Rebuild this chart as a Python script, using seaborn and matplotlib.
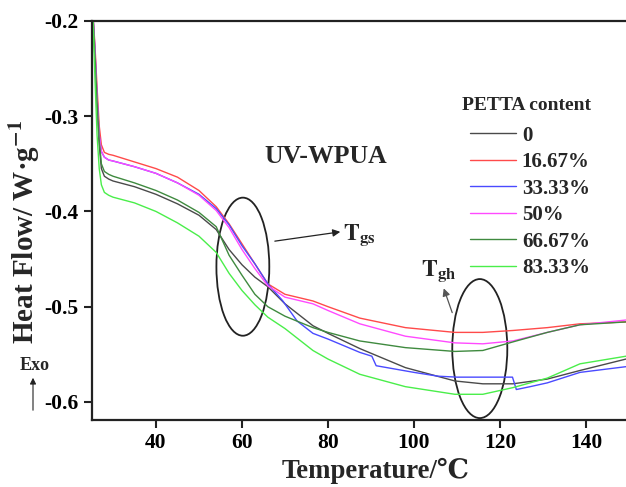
import numpy as np
import pandas as pd
import seaborn as sns
import matplotlib
matplotlib.use("Agg")
import matplotlib.pyplot as plt
from matplotlib.patches import Ellipse, FancyArrowPatch

# ---- data ----
contents = ["0", "16.67%", "33.33%", "50%", "66.67%", "83.33%"]
colors = ["#4a4a4a", "#ff4a4a", "#4a4aff", "#ff4aff", "#3f8a3f", "#4aee4a"]

T_base = [25.3, 25.8, 26.3, 26.8, 27.3, 28, 29, 30, 35, 40, 45, 50, 54, 57, 60, 63, 66,
          70, 76.5, 80, 87.4, 98, 109.5, 116, 123, 131, 138.6, 149.3]

hf_0 = [-0.19, -0.24, -0.29, -0.33, -0.355, -0.363, -0.366, -0.368, -0.374, -0.382, -0.392,
        -0.404, -0.419, -0.440, -0.456, -0.469, -0.479,
        -0.497, -0.520, -0.528, -0.544, -0.564, -0.578, -0.581, -0.581, -0.576, -0.567, -0.555]
hf_1667 = [-0.19, -0.225, -0.27, -0.31, -0.33, -0.338, -0.340, -0.341, -0.348, -0.355, -0.364,
           -0.378, -0.395, -0.413, -0.434, -0.455, -0.476,
           -0.487, -0.494, -0.500, -0.512, -0.522, -0.527, -0.527, -0.525, -0.522, -0.518, -0.516]
hf_50 = [-0.19, -0.23, -0.28, -0.32, -0.337, -0.343, -0.346, -0.347, -0.353, -0.360, -0.370,
         -0.383, -0.399, -0.417, -0.440, -0.460, -0.478,
         -0.490, -0.497, -0.504, -0.518, -0.531, -0.538, -0.539, -0.536, -0.527, -0.519, -0.514]
hf_6667 = [-0.19, -0.235, -0.285, -0.325, -0.35, -0.358, -0.361, -0.363, -0.370, -0.378, -0.388,
           -0.401, -0.416, -0.446, -0.467, -0.487, -0.500,
           -0.510, -0.522, -0.527, -0.536, -0.543, -0.547, -0.546, -0.537, -0.527, -0.519, -0.516]
hf_8333 = [-0.19, -0.26, -0.32, -0.355, -0.372, -0.380, -0.383, -0.385, -0.391, -0.400, -0.412,
           -0.426, -0.443, -0.465, -0.483, -0.498, -0.511,
           -0.523, -0.546, -0.555, -0.571, -0.584, -0.592, -0.592, -0.585, -0.575, -0.560, -0.552]

T_3333 = [25.3, 25.8, 26.3, 26.8, 27.3, 28, 29, 30, 35, 40, 45, 50, 54, 57, 60, 63, 66,
          69.5, 72.8, 76.5, 80, 87.4, 90.2, 91.2, 100, 105.6, 110, 116, 122.9, 123.8,
          127, 131, 138.6, 149.3]
hf_3333 = [-0.19, -0.23, -0.28, -0.32, -0.337, -0.343, -0.346, -0.347, -0.353, -0.360, -0.370,
           -0.382, -0.397, -0.414, -0.436, -0.455, -0.476,
           -0.494, -0.515, -0.528, -0.534, -0.548, -0.552, -0.562, -0.569, -0.573, -0.574,
           -0.574, -0.574, -0.587, -0.584, -0.580, -0.569, -0.563]

series = {
    "0": (T_base, hf_0),
    "16.67%": (T_base, hf_1667),
    "33.33%": (T_3333, hf_3333),
    "50%": (T_base, hf_50),
    "66.67%": (T_base, hf_6667),
    "83.33%": (T_base, hf_8333),
}
rows = []
for name in contents:
    ts, vs = series[name]
    for t, v in zip(ts, vs):
        rows.append({"T": t, "HF": v, "content": name})
df = pd.DataFrame(rows)

x_ticks = [40, 60, 80, 100, 120, 140]
y_ticks = [-0.6, -0.5, -0.4, -0.3, -0.2]

# ---- style ----
sns.set_theme(style="ticks")
plt.rcParams["font.family"] = ["Liberation Serif", "DejaVu Serif"]
plt.rcParams["font.weight"] = "bold"
plt.rcParams["mathtext.fontset"] = "stix"

fig = plt.figure(figsize=(6.26, 4.87), dpi=100)
ax = fig.add_axes([92/626, 1 - 420/487, 1 - 92/626, (420 - 21)/487])

sns.lineplot(data=df, x="T", y="HF", hue="content", hue_order=contents,
             palette=colors, estimator=None, sort=True, linewidth=1.0, ax=ax)

ax.set_xlim(25.12, 149.3)
ax.set_ylim(-0.619, -0.2)
ax.set_xticks(x_ticks)
ax.set_yticks(y_ticks)
ax.set_xticklabels([str(v) for v in x_ticks], fontsize=15.5, fontweight="bold")
ax.set_yticklabels([f"{v:.1f}" for v in y_ticks], fontsize=15.5, fontweight="bold")
ax.tick_params(direction="out", length=6, width=1.5, colors="#222222", labelcolor="black")
for s in ["left", "bottom", "top"]:
    ax.spines[s].set_linewidth(1.6)
    ax.spines[s].set_color("#222222")
ax.spines["top"].set_visible(True)
ax.spines["right"].set_visible(False)

ax.set_xlabel("Temperature/℃", fontsize=19.3, fontweight="bold")
ax.xaxis.set_label_coords((376 - 92) / 534, (420 - 458) / 399)
ax.set_ylabel(r"Heat Flow/ W·g$^{\mathbf{-1}}$", fontsize=21, fontweight="bold")
ax.yaxis.set_label_coords((42 - 92) / 534, (420 - 232) / 399)

# legend
leg = ax.legend(loc="upper left", bbox_to_anchor=(451/626, 1 - 107/487),
                bbox_transform=fig.transFigure, frameon=False, fontsize=15,
                handlelength=2.2, handletextpad=0.3, labelspacing=0.31)
for t in leg.get_texts():
    t.set_fontweight("bold")
fig.text(462/626, 1 - 105/487, "PETTA content", fontsize=14, fontweight="bold",
         ha="left", va="center")

# annotations
ax.text(79.5, -0.342, "UV-WPUA", fontsize=18.5, fontweight="bold", ha="center", va="center")
ax.add_patch(Ellipse((60.2, -0.458), 12.3, 0.145, fill=False, edgecolor="#222222", lw=1.3))
ax.add_patch(Ellipse((115.3, -0.544), 12.8, 0.146, fill=False, edgecolor="#222222", lw=1.3))
ax.annotate("", xy=(83.5, -0.421), xytext=(67.0, -0.4316),
            arrowprops=dict(arrowstyle="-|>", lw=0.9, color="#222222", mutation_scale=11))
ax.text(83.6, -0.425, r"$\mathbf{T_{gs}}$", fontsize=17, ha="left", va="center")
ax.annotate("", xy=(106.7, -0.478), xytext=(109.1, -0.509),
            arrowprops=dict(arrowstyle="-|>", lw=0.9, color="#555555", mutation_scale=11))
ax.text(101.6, -0.463, r"$\mathbf{T_{gh}}$", fontsize=17, ha="left", va="center")

fig.text(35/626, 1 - 366/487, "Exo", fontsize=13, fontweight="bold", ha="center", va="center")
fig.add_artist(FancyArrowPatch((33/626, 1 - 413/487), (33/626, 1 - 375/487),
               transform=fig.transFigure, arrowstyle="-|>", mutation_scale=9, lw=0.8, color="#222222"))

fig.savefig("out.png", dpi=100)
